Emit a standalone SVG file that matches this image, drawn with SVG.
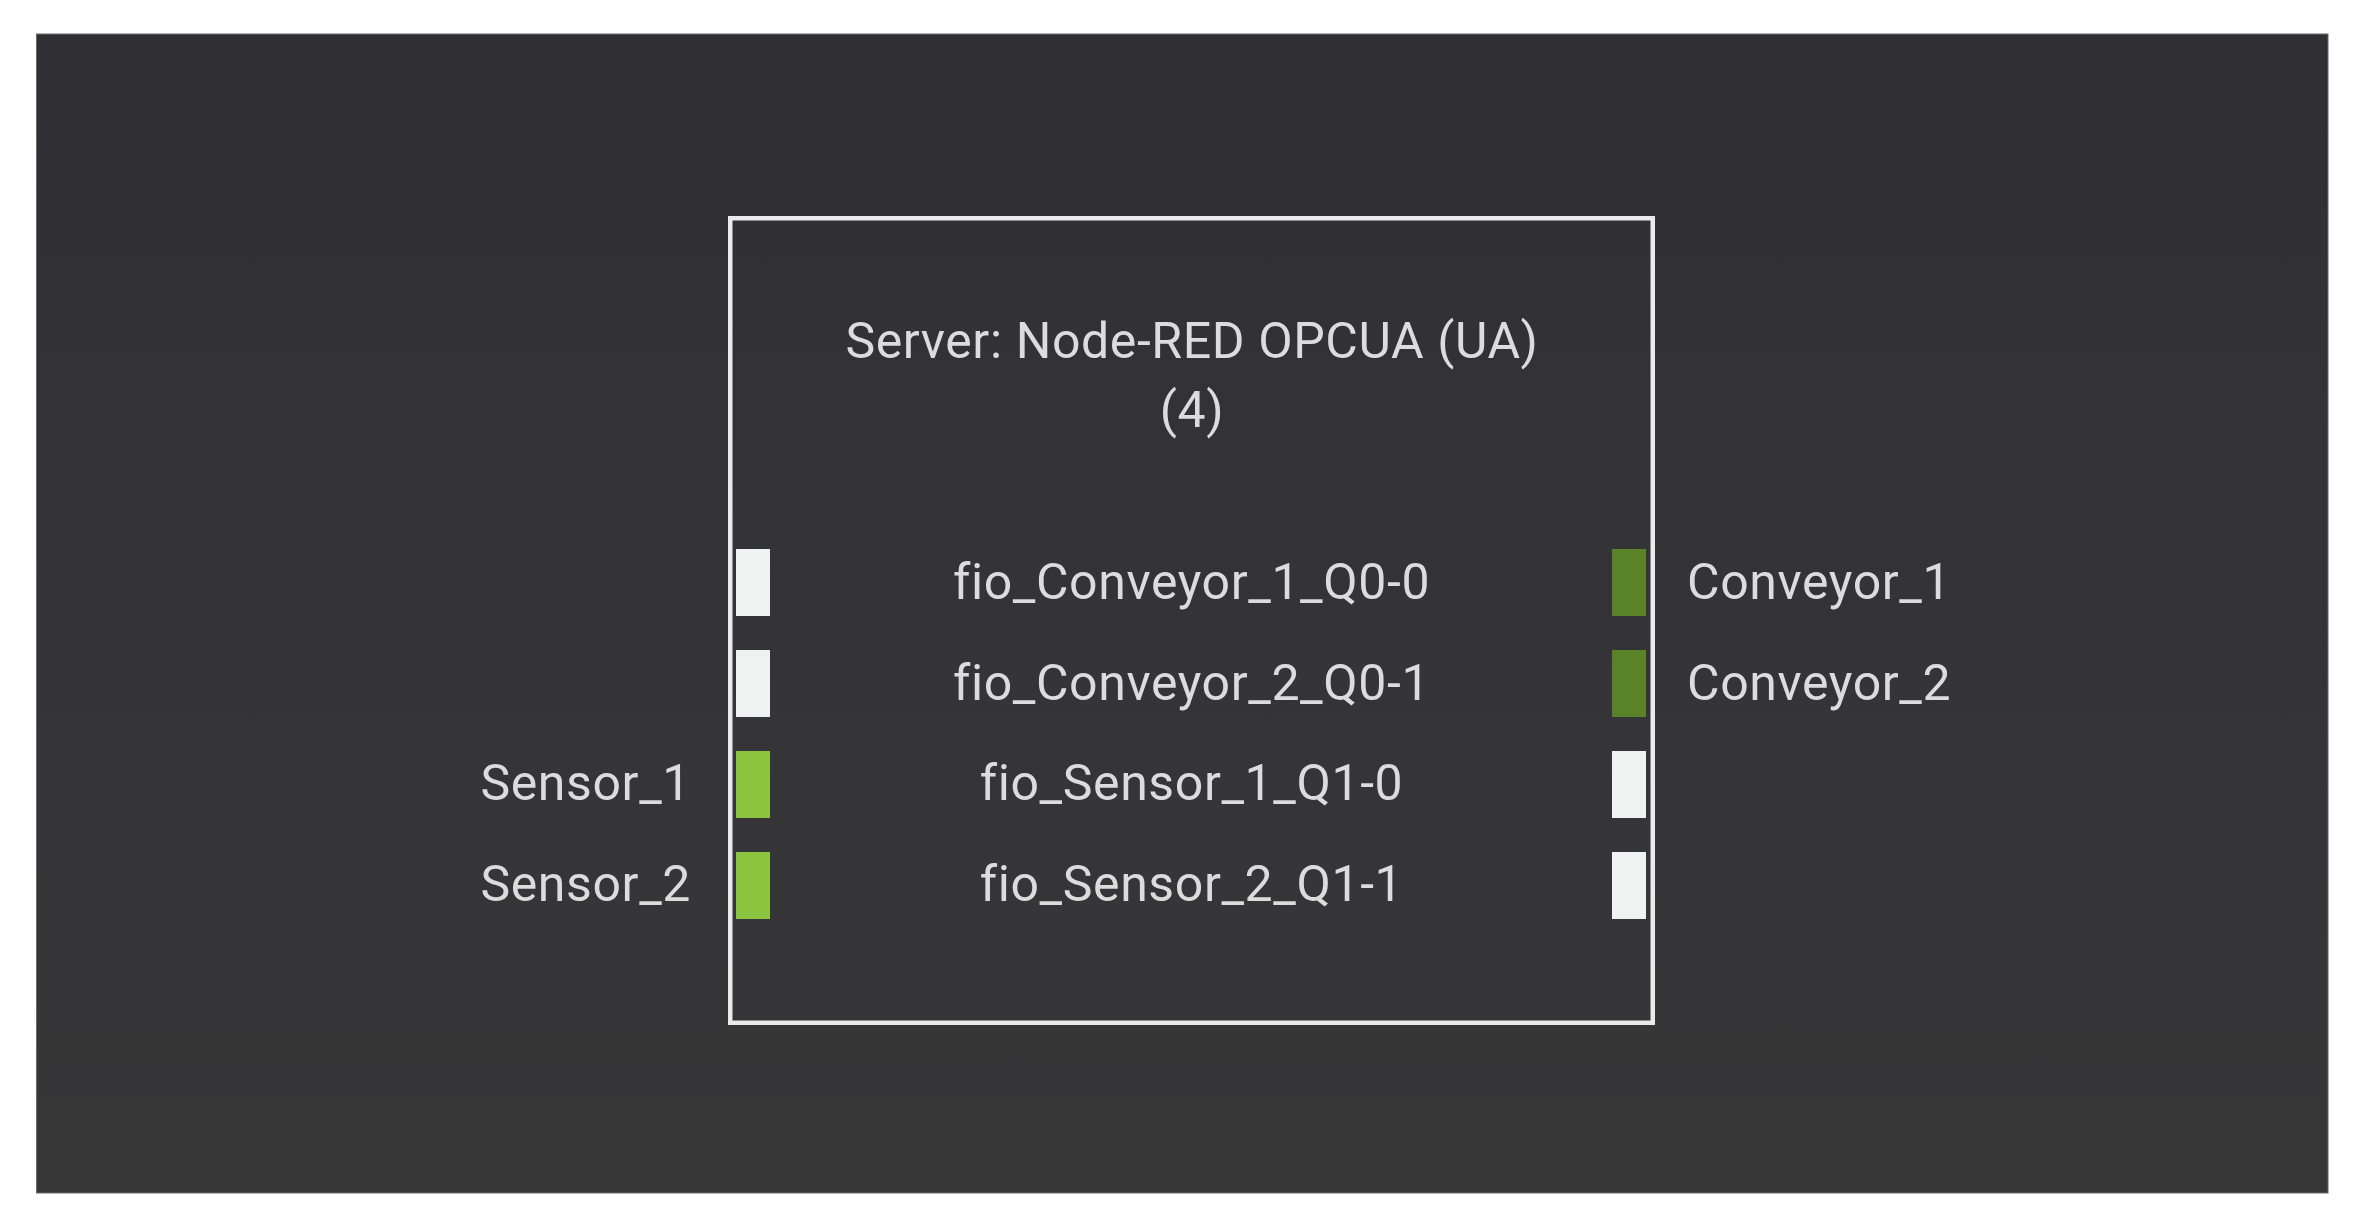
<svg xmlns="http://www.w3.org/2000/svg" width="2364" height="1230" viewBox="0 0 2364 1230">
<defs>
<linearGradient id="bg" x1="0" y1="0" x2="0" y2="1">
<stop offset="0" stop-color="#302f33"/>
<stop offset="1" stop-color="#383738"/>
</linearGradient>
<style>
text{font-family:Roboto,"Liberation Sans",sans-serif;font-size:50px;fill:#dcdcdc;letter-spacing:0.6px}
.c{text-anchor:middle}
.e{text-anchor:end}
.pw{fill:#f0f2f1}
.pl{fill:#8bc540}
.pd{fill:#5a8228}
</style>
</defs>
<rect width="2364" height="1230" fill="#ffffff"/>
<rect x="36.5" y="34" width="2291.5" height="1159" fill="url(#bg)" stroke="#6a6a6a" stroke-width="1"/>
<g id="connectors"/>
<g id="server">
<rect x="730.25" y="218.25" width="922.5" height="804.5" fill="none" stroke="#ebebeb" stroke-width="4.5"/>
<text class="c" x="1192" y="358">Server: Node-RED OPCUA (UA)</text>
<text class="c" x="1192" y="427">(4)</text>
</g>
<g id="port-conveyor-1">
<rect class="pw" x="736" y="549" width="34" height="67"/>
<text class="c" x="1191.5" y="599">fio_Conveyor_1_Q0-0</text>
<rect class="pd" x="1612" y="549" width="34" height="67"/>
<text x="1687" y="599">Conveyor_1</text>
</g>
<g id="port-conveyor-2">
<rect class="pw" x="736" y="650" width="34" height="67"/>
<text class="c" x="1191.5" y="700">fio_Conveyor_2_Q0-1</text>
<rect class="pd" x="1612" y="650" width="34" height="67"/>
<text x="1687" y="700">Conveyor_2</text>
</g>
<g id="port-sensor-1">
<rect class="pl" x="736" y="751" width="34" height="67"/>
<text class="e" x="691" y="800">Sensor_1</text>
<text class="c" x="1191.5" y="800">fio_Sensor_1_Q1-0</text>
<rect class="pw" x="1612" y="751" width="34" height="67"/>
</g>
<g id="port-sensor-2">
<rect class="pl" x="736" y="852" width="34" height="67"/>
<text class="e" x="691" y="901">Sensor_2</text>
<text class="c" x="1191.5" y="901">fio_Sensor_2_Q1-1</text>
<rect class="pw" x="1612" y="852" width="34" height="67"/>
</g>
</svg>
